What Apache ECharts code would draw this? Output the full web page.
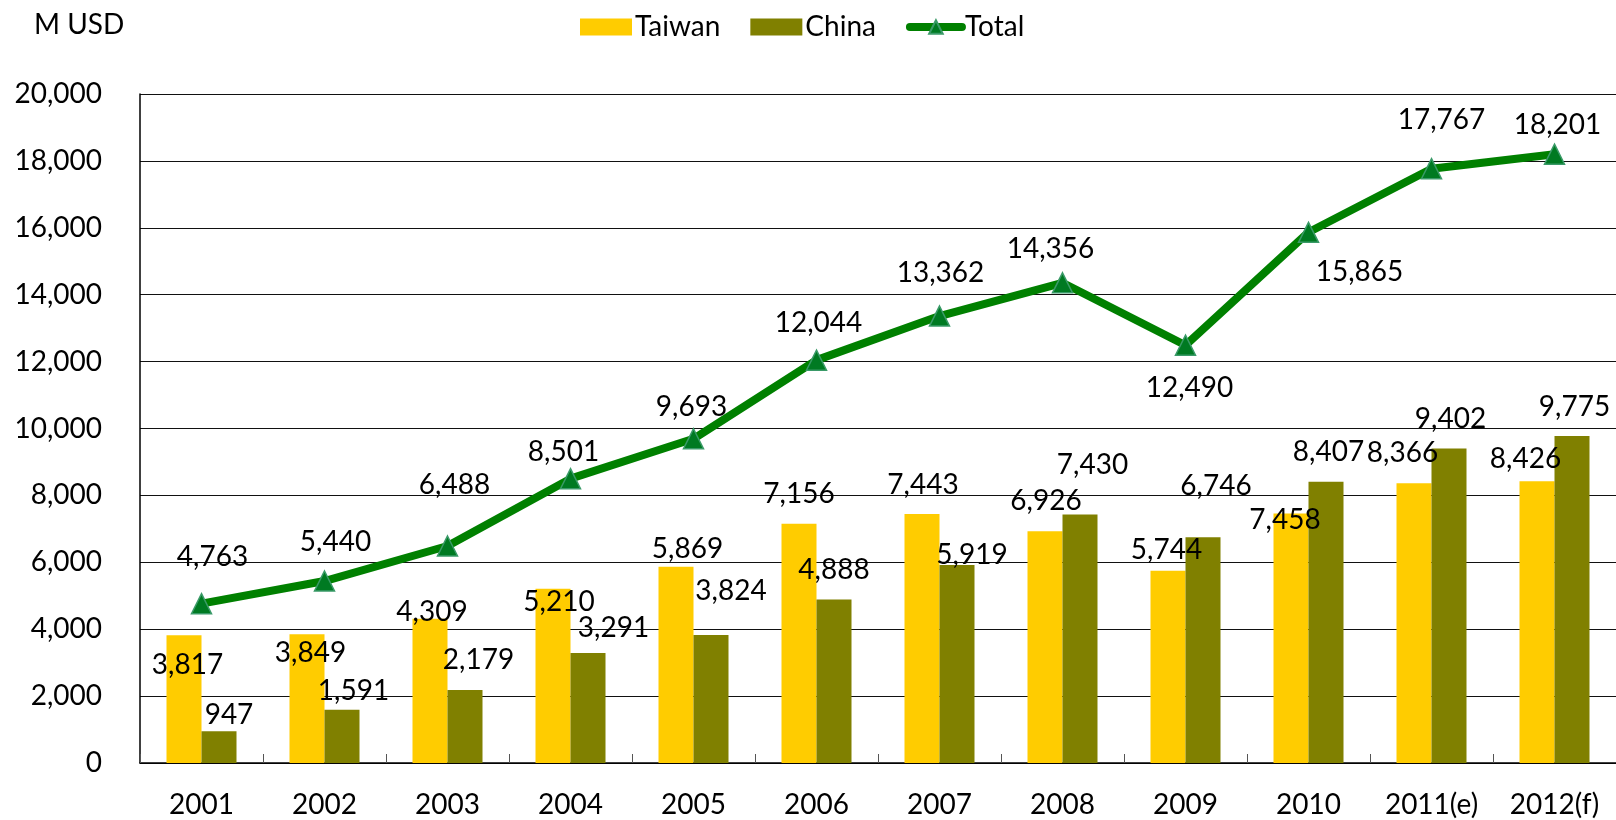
<!DOCTYPE html>
<html>
<head>
<meta charset="utf-8">
<script src="https://cdn.jsdelivr.net/npm/echarts@6/dist/echarts.min.js"></script>
<style>
  html, body { margin: 0; padding: 0; background: #fff; }
  #chart { width: 1616px; height: 820px; }
</style>
</head>
<body>
<div id="chart"></div>
<script>
const years = ['2001', '2002', '2003', '2004', '2005', '2006', '2007', '2008', '2009', '2010', '2011(e)', '2012(f)'];
const taiwan = [3817, 3849, 4309, 5210, 5869, 7156, 7443, 6926, 5744, 7458, 8366, 8426];
const china = [947, 1591, 2179, 3291, 3824, 4888, 5919, 7430, 6746, 8407, 9402, 9775];
const total = [4763, 5440, 6488, 8501, 9693, 12044, 13362, 14356, 12490, 15865, 17767, 18201];

// label nudges (px) copied from the hand-placed labels of the original
const taiwanOffsets = [[3.5, 30], [3.5, 19], [2, -7], [6, 13], [11.5, -18], [0, -30], [1, -29], [1, -30], [-1.5, -21], [-6, 6.5], [-11.5, -30], [-11.5, -22]];
const chinaOffsets = [[10, -16], [11.5, -19], [13.5, -30], [25.5, -24.5], [20, -44], [0, -30], [15, -10], [12.5, -49.5], [13, -51], [2.5, -30], [1.5, -30], [2.5, -29]];
const totalOffsets = [[11, -47], [11, -39], [7, -61], [-7, -27], [-2, -32], [2, -37], [1, -43], [-12, -34], [4, 43], [51, 40], [10, -49], [3, -29]];

const FONT = 'Lato';
const fmt = v => Number(v).toLocaleString('en-US');

const baseLabel = {
  show: true,
  fontFamily: FONT,
  fontSize: 28,
  color: '#000',
  align: 'center',
  verticalAlign: 'middle',
  formatter: p => fmt(p.value)
};

const withOffsets = (vals, offs) => vals.map((v, i) => ({ value: v, label: { offset: offs[i] } }));

const chart = echarts.init(document.getElementById('chart'), null, { renderer: 'canvas' });

chart.setOption({
  backgroundColor: '#fff',
  animation: false,
  title: {
    text: 'M USD',
    left: 29,
    top: 6,
    textStyle: { fontFamily: FONT, fontSize: 28, fontWeight: 'normal', color: '#000' }
  },
  legend: {
    left: 575,
    top: 8,
    itemWidth: 52,
    itemHeight: 17,
    itemGap: 30,
    textStyle: { fontFamily: FONT, fontSize: 28, color: '#000', padding: [0, 0, 0, -2] },
    data: [
      { name: 'Taiwan', icon: 'rect' },
      { name: 'China', icon: 'rect' },
      { name: 'Total', lineStyle: { width: 8, cap: 'round', color: '#008000' } }
    ]
  },
  grid: { left: 140, right: 0, top: 94, bottom: 57, outerBoundsMode: 'none' },
  xAxis: {
    type: 'category',
    data: years,
    axisLine: { lineStyle: { color: '#000', width: 1.5 } },
    axisTick: { show: true, inside: true, length: 9, lineStyle: { color: '#555' } },
    axisLabel: { fontFamily: FONT, fontSize: 28, color: '#000', margin: 28 }
  },
  yAxis: {
    type: 'value',
    min: 0,
    max: 20000,
    interval: 2000,
    axisLine: { show: true, lineStyle: { color: '#000', width: 1.5 } },
    axisTick: { show: false },
    splitLine: { lineStyle: { color: '#111', width: 1 } },
    axisLabel: { fontFamily: FONT, fontSize: 28, color: '#000', margin: 38, formatter: v => fmt(v) }
  },
  series: [
    {
      name: 'Taiwan',
      type: 'bar',
      barWidth: 35,
      barGap: '0%',
      itemStyle: { color: '#FFCC00' },
      label: Object.assign({}, baseLabel, { position: 'top', distance: 0 }),
      data: withOffsets(taiwan, taiwanOffsets),
      z: 2
    },
    {
      name: 'China',
      type: 'bar',
      barWidth: 35,
      barGap: '0%',
      itemStyle: { color: '#808000' },
      label: Object.assign({}, baseLabel, { position: 'top', distance: 0 }),
      data: withOffsets(china, chinaOffsets),
      z: 2
    },
    {
      name: 'Total',
      type: 'line',
      symbol: 'triangle',
      symbolSize: 20,
      lineStyle: { color: '#008000', width: 8 },
      itemStyle: { color: '#007a22', borderColor: '#3a9a68', borderWidth: 1.5 },
      label: Object.assign({}, baseLabel, { position: 'inside' }),
      data: withOffsets(total, totalOffsets),
      z: 5
    }
  ]
});
</script>
</body>
</html>
